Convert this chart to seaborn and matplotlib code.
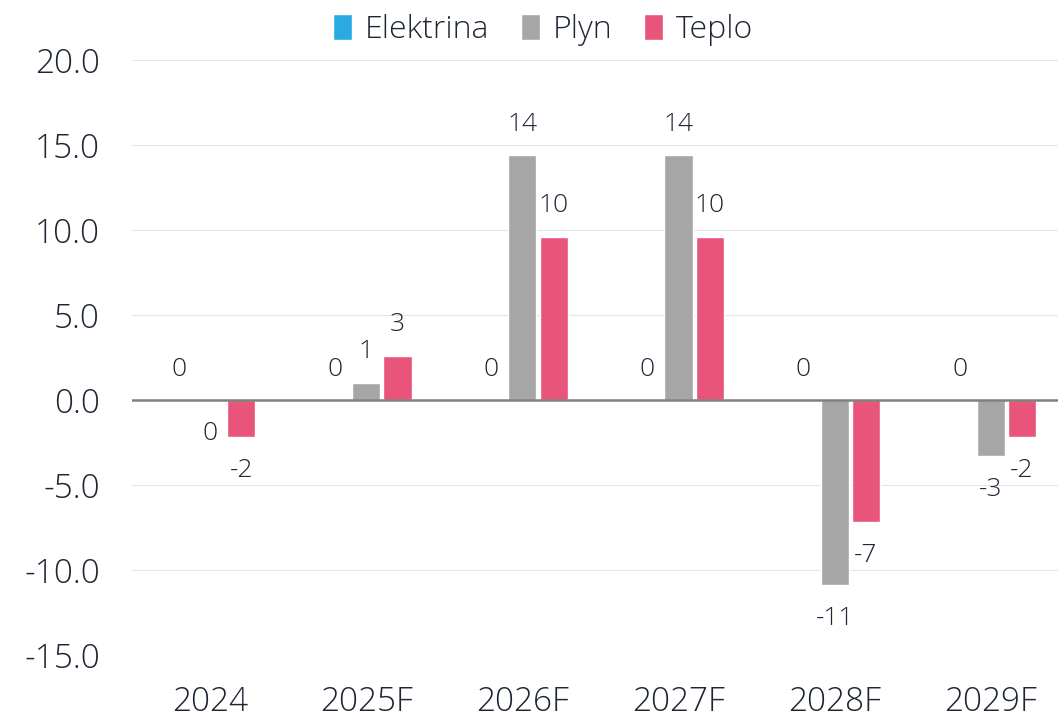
import pandas as pd
import numpy as np
import matplotlib
matplotlib.use("Agg")
import matplotlib.pyplot as plt
import seaborn as sns

# values
years = ["2024", "2025F", "2026F", "2027F", "2028F", "2029F"]
elektrina = [0.0, 0.0, 0.0, 0.0, 0.0, 0.0]
plyn = [-0.02, 1.0, 14.4, 14.4, -10.9, -3.3]
teplo = [-2.2, 2.6, 9.6, 9.6, -7.2, -2.2]

series = ["Elektrina", "Plyn", "Teplo"]
colors = ["#29ABE2", "#A6A6A6", "#E8547A"]
text_color = "#1E2633"

df = pd.DataFrame({
    "year": years * 3,
    "series": [s for s in series for _ in years],
    "value": elektrina + plyn + teplo,
})

sns.set_theme(style="white")
plt.rcParams["font.family"] = ["Open Sans", "DejaVu Sans"]
plt.rcParams["font.weight"] = "light"

fig = plt.figure(figsize=(10.58, 7.18), dpi=100)
ax = fig.add_axes([132 / 1058, 63 / 718, 926 / 1058, 595 / 718])

sns.barplot(data=df, x="year", y="value", hue="series", hue_order=series,
            palette=colors, width=0.6, gap=0.1, order=years, ax=ax,
            saturation=1, errorbar=None)

ax.set_ylim(-15, 20)
ax.set_xlim(-0.5, 5.43)
ax.set_yticks(np.arange(-15, 20.1, 5))
ax.set_yticklabels([f"{t:.1f}" for t in np.arange(-15, 20.1, 5)])
ax.yaxis.grid(True, color="#E5E5E5", lw=0.8)
ax.set_axisbelow(True)
ax.axhline(0, color="#7F7F7F", lw=1.8, zorder=3)
for s in ax.spines.values():
    s.set_visible(False)
ax.set_xlabel("")
ax.set_ylabel("")
ax.tick_params(axis="y", length=0, pad=23, labelsize=24, labelcolor=text_color)
ax.tick_params(axis="x", length=0, pad=22, labelsize=24, labelcolor=text_color)

# data labels just beyond the bar ends
for cont in ax.containers:
    for bar in cont:
        h = bar.get_height()
        label = f"{int(np.round(h))}" if np.round(h) != 0 else "0"
        off = 31 if h >= 0 else -33
        ax.annotate(label, (bar.get_x() + bar.get_width() / 2, h),
                    xytext=(0, off), textcoords="offset pixels",
                    ha="center", va="center", fontsize=19, color=text_color)

handles, labels = ax.get_legend_handles_labels()
ax.legend(handles, labels, loc="center", bbox_to_anchor=(543 / 1058, 1 - 30 / 718),
          bbox_transform=fig.transFigure, ncol=3, frameon=False,
          fontsize=23, handlelength=0.6, handleheight=0.9, handletextpad=0.4,
          columnspacing=1.0, labelcolor=text_color)

fig.savefig("out.png", dpi=100)
